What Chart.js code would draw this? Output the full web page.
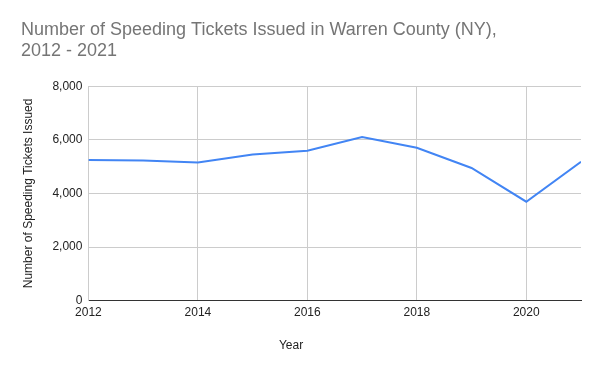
<!DOCTYPE html>
<html>
<head>
<meta charset="utf-8">
<script src="https://cdn.jsdelivr.net/npm/chart.js@4/dist/chart.umd.min.js"></script>
<style>
  html, body { margin: 0; padding: 0; background: #fff; }
  #wrap { width: 600px; height: 371px; }
</style>
</head>
<body>
<div id="wrap"><canvas id="c" width="600" height="371"></canvas></div>
<script>
const titleLines = ["Number of Speeding Tickets Issued in Warren County (NY),", "2012 - 2021"];
const years = [2012, 2013, 2014, 2015, 2016, 2017, 2018, 2019, 2020, 2021];
const tickets = [5250, 5230, 5150, 5450, 5590, 6100, 5700, 4950, 3690, 5180];
const yTicks = [0, 2000, 4000, 6000, 8000];
const xTitle = "Year";
const yTitle = "Number of Speeding Tickets Issued";

const points = years.map((y, i) => ({ x: y, y: tickets[i] }));
const FONT = "'Liberation Sans', Arial, sans-serif";

const xTitlePlugin = {
  id: 'xTitlePlugin',
  afterDraw(chart) {
    const ctx = chart.ctx;
    ctx.save();
    ctx.font = "12px " + FONT;
    ctx.fillStyle = "#222222";
    ctx.textAlign = "center";
    ctx.textBaseline = "middle";
    ctx.fillText(xTitle, 291, chart.chartArea.bottom + 45);
    ctx.restore();
  }
};

new Chart(document.getElementById('c'), {
  type: 'line',
  data: {
    datasets: [{
      data: points,
      borderColor: '#4285F4',
      backgroundColor: '#4285F4',
      borderWidth: 2,
      pointRadius: 0,
      tension: 0,
      fill: false
    }]
  },
  options: {
    responsive: false,
    animation: false,
    devicePixelRatio: 1,
    layout: { padding: { left: 21, right: 19, top: 19, bottom: 46 } },
    plugins: {
      legend: { display: false },
      tooltip: { enabled: false },
      title: {
        display: true,
        text: titleLines,
        align: 'start',
        color: '#757575',
        font: { family: FONT, size: 18, weight: 'normal', lineHeight: 1.2 },
        padding: { top: 0, bottom: 24 }
      }
    },
    scales: {
      x: {
        type: 'linear',
        min: years[0],
        max: years[years.length - 1],
        ticks: {
          stepSize: 2,
          includeBounds: false,
          color: '#222222',
          font: { family: FONT, size: 12 },
          padding: 5,
          maxRotation: 0,
          callback: (v) => String(v)
        },
        grid: { color: '#cccccc', drawTicks: false },
        border: { color: '#333333', width: 1 }
      },
      y: {
        min: yTicks[0],
        max: yTicks[yTicks.length - 1],
        afterBuildTicks: (axis) => { axis.ticks = yTicks.map(v => ({ value: v })); },
        ticks: {
          color: '#222222',
          font: { family: FONT, size: 12 },
          padding: 6,
          callback: (v) => v.toLocaleString('en-US')
        },
        grid: { color: '#cccccc', drawTicks: false },
        border: { color: '#cccccc' },
        title: {
          display: true,
          text: yTitle,
          color: '#222222',
          font: { family: FONT, size: 12 },
          padding: { top: 0, bottom: 11 }
        }
      }
    }
  },
  plugins: [xTitlePlugin]
});
</script>
</body>
</html>
